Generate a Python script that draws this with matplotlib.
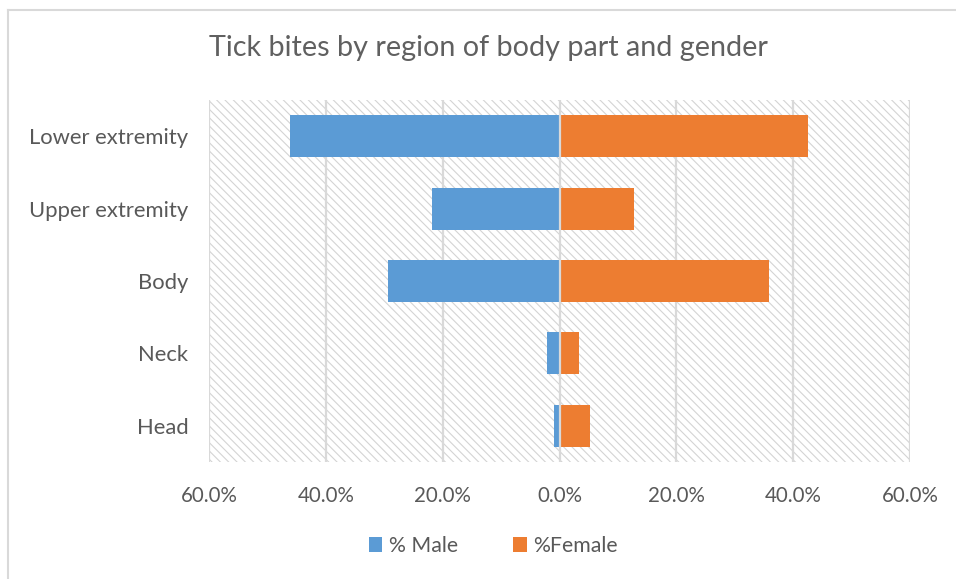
import matplotlib.pyplot as plt
from matplotlib.patches import Rectangle
from matplotlib.lines import Line2D
import matplotlib as mpl

# datos (porcentajes)
regiones = ['Head', 'Neck', 'Body', 'Upper extremity', 'Lower extremity']
hombres = [0.9, 2.1, 29.4, 21.8, 46.1]
mujeres = [5.3, 3.3, 35.9, 12.8, 42.5]
ticks_x = [-60, -40, -20, 0, 20, 40, 60]

gris_txt = '#595959'
gris_grid = '#d9d9d9'
plt.rcParams['font.family'] = ['Lato', 'DejaVu Sans']
plt.rcParams['hatch.linewidth'] = 0.8

fig = plt.figure(figsize=(9.56, 5.79), dpi=100)
ax = fig.add_axes([209/956, 1 - 462/579, 701/956, 362/579])

# fondo rayado del área de trazado
ax.add_patch(Rectangle((0, 0), 1, 1, transform=ax.transAxes, facecolor='white',
                       edgecolor='#d4d4d4', hatch='\\\\\\\\', lw=0, zorder=0))

y = range(len(regiones))
ax.barh(y, [-v for v in hombres], height=0.58, color='#5B9BD5', zorder=2, label='% Male')
ax.barh(y, mujeres, height=0.58, color='#ED7D31', zorder=2, label='%Female')

for t in ticks_x:
    ax.axvline(t, color=gris_grid, lw=1.6, zorder=3 if t == 0 else 1)

ax.set_xlim(-60, 60)
ax.set_ylim(-0.5, len(regiones) - 0.5)
ax.set_xticks(ticks_x)
ax.set_xticklabels(['%.1f%%' % abs(t) for t in ticks_x], fontsize=14.8, color=gris_txt)
ax.set_yticks(list(y))
ax.set_yticklabels(regiones, fontsize=15.8, color=gris_txt)
ax.tick_params(length=0)
ax.tick_params(axis='y', pad=15)
ax.tick_params(axis='x', pad=17)
for s in ax.spines.values():
    s.set_visible(False)

fig.text(0.511, 1 - 48/579, 'Tick bites by region of body part and gender',
         ha='center', va='center', fontsize=20.7, color='#606060')

ax.legend(loc='center', bbox_to_anchor=(0.516, 1 - 546/579), bbox_transform=fig.transFigure,
          ncol=2, frameon=False, fontsize=15.3, labelcolor=gris_txt,
          handlelength=0.65, handleheight=0.65, handletextpad=0.3, columnspacing=2.6)

# borde del gráfico (solo arriba e izquierda visibles)
fig.add_artist(Line2D([8/956, 8/956], [0, 1 - 10/579], color=gris_grid, lw=1.5))
fig.add_artist(Line2D([8/956, 1], [1 - 10/579, 1 - 10/579], color=gris_grid, lw=1.5))

plt.savefig('out.png')
